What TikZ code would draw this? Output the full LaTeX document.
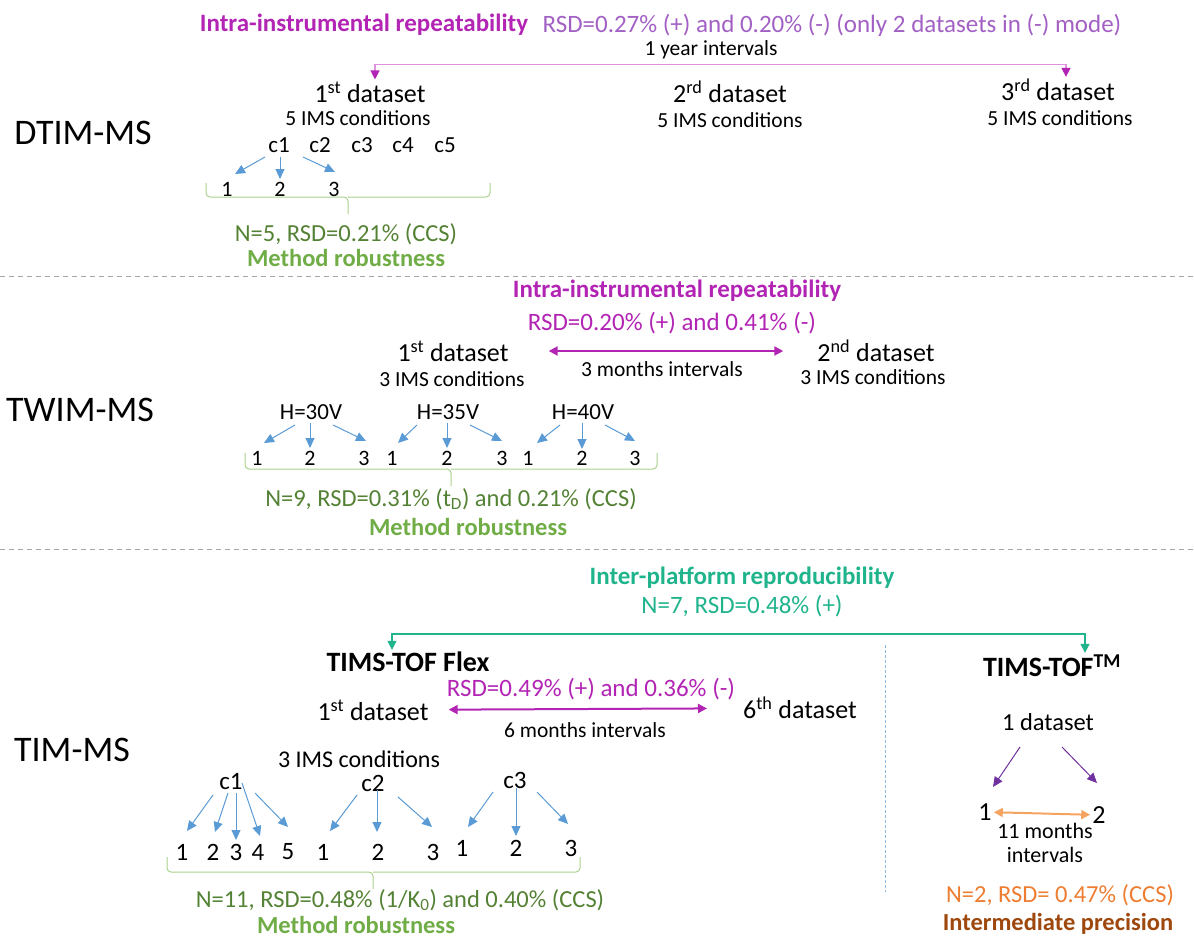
\documentclass[tikz,border=0pt]{standalone}
\usepackage{fontspec}
\setmainfont{Carlito}
\usetikzlibrary{arrows.meta,positioning,calc}
\definecolor{magt}{RGB}{178,36,180}
\definecolor{lilac}{RGB}{162,96,196}
\definecolor{pinkln}{RGB}{222,146,222}
\definecolor{arrblue}{RGB}{91,155,213}
\definecolor{bracegrn}{RGB}{169,209,142}
\definecolor{dkgrn}{RGB}{84,130,53}
\definecolor{mgrn}{RGB}{112,173,71}
\definecolor{tealg}{RGB}{32,180,140}
\definecolor{purp}{RGB}{112,48,160}
\definecolor{orng}{RGB}{237,125,49}
\definecolor{orngln}{RGB}{244,164,96}
\definecolor{brwn}{RGB}{158,72,14}
\newcommand{\fsz}[1]{\fontsize{#1}{#1}\selectfont}
\tikzset{
  every node/.style={inner sep=2pt},
  tech/.style={font=\fsz{36}},
  titlem/.style={font=\bfseries\fsz{25}, text=magt},
  rsdm/.style={font=\fsz{25}, text=magt},
  dset/.style={font=\fsz{26}},
  cond/.style={font=\fsz{21.5}},
  ivl/.style={font=\fsz{21.5}},
  cnd/.style={font=\fsz{23}},
  rep/.style={font=\fsz{22}},
  stat/.style={font=\fsz{24.5}, text=dkgrn},
  robust/.style={font=\bfseries\fsz{24.5}, text=mgrn},
  instr/.style={font=\bfseries\fsz{28}},
  fanarr/.style={-{Triangle[length=10pt,width=9pt]}, draw=arrblue, line width=1pt},
  intspan/.style={{Triangle[length=9pt,width=9pt]}-{Triangle[length=9pt,width=9pt]}, draw=magt, line width=2pt},
  brc/.style={draw=bracegrn, line width=1pt, rounded corners=4pt},
  divider/.style={draw=black!35, line width=1pt, dash pattern=on 5pt off 4pt},
}

\begin{document}
\begin{tikzpicture}[x=1pt, y=-1pt]
  \useasboundingbox (0,0) rectangle (1194,939);
  % DTIM-MS
  \node[titlem] (ttl1) at (364,25) {Intra-instrumental repeatability};
  \node[rsdm, text=lilac] (rsd1) at (832,25) {RSD=0.27\% (+) and 0.20\% (-) (only 2 datasets in (-) mode)};
  \node[ivl] (yr) at (711,50) {1 year intervals};
  \node[dset] (d1) at (370,92) {1\textsuperscript{st} dataset};
  \node[cond] (d1c) at (358,118) {5 IMS conditions};
  \node[dset] (d2) at (730,92) {2\textsuperscript{rd} dataset};
  \node[cond] (d2c) at (730,120) {5 IMS conditions};
  \node[dset] (d3) at (1058,90) {3\textsuperscript{rd} dataset};
  \node[cond] (d3c) at (1060,118) {5 IMS conditions};
  \node[tech] (dtim) at (83,133) {DTIM-MS};
  \node[cnd] (ca1) at (279,145) {c1};
  \node[cnd] (ca2) at (320,145) {c2};
  \node[cnd] (ca3) at (362,145) {c3};
  \node[cnd] (ca4) at (403,145) {c4};
  \node[cnd] (ca5) at (445,145) {c5};
  \node[rep] (a1) at (227,189) {1};
  \node[rep] (a2) at (280,189) {2};
  \node[rep] (a3) at (334,189) {3};
  \node[stat] (n5) at (346,234) {N=5, RSD=0.21\% (CCS)};
  \node[robust] (mr1) at (346,258) {Method robustness};
  \draw[draw=pinkln, line width=1.3pt,
    {Triangle[length=9pt,width=9pt,color=magt]}-{Triangle[length=9pt,width=9pt,color=magt]}]
    ([xshift=5pt]d1.north) -- ++(0,-15) -| ([xshift=8pt]d3.north);
  \draw[fanarr] ($(ca1)+(-14,12)$) -- ($(a1)+(8,-15)$);
  \draw[fanarr] ($(ca1)+(1,12)$) -- ($(a2)+(0,-10)$);
  \draw[fanarr] ($(ca1)+(24,12)$) -- ($(a3)+(1,-17)$);
  \draw[brc] (206,183) -- (206,197) -- (348,197) -- (348,214);
  \draw[brc] (490,183) -- (490,197) -- (348,197);
  \draw[divider] (0,276) -- (1194,276);

  % TWIM-MS
  \node[titlem] (ttl2) at (677,291) {Intra-instrumental repeatability};
  \node[rsdm] (rsd2) at (672,323) {RSD=0.20\% (+) and 0.41\% (-)};
  \node[dset] (e1) at (453,351) {1\textsuperscript{st} dataset};
  \node[cond] (e1c) at (452,379) {3 IMS conditions};
  \node[dset] (e2) at (876,351) {2\textsuperscript{nd} dataset};
  \node[cond] (e2c) at (873,377) {3 IMS conditions};
  \node[ivl] (mo3) at (662,369) {3 months intervals};
  \draw[intspan] (e1) -- (e2) [shorten <=38pt, shorten >=32pt];
  \node[tech] (twim) at (80,410) {TWIM-MS};
  \node[cnd] (h1) at (311,412) {H=30V};
  \node[cnd] (h2) at (448,412) {H=35V};
  \node[cnd] (h3) at (583,412) {H=40V};
  \node[rep] (b1) at (257,458) {1};
  \node[rep] (b2) at (310,458) {2};
  \node[rep] (b3) at (364,458) {3};
  \node[rep] (b4) at (392,458) {1};
  \node[rep] (b5) at (447,458) {2};
  \node[rep] (b6) at (502,458) {3};
  \node[rep] (b7) at (528,458) {1};
  \node[rep] (b8) at (582,458) {2};
  \node[rep] (b9) at (635,458) {3};
  \draw[fanarr] ($(h1)+(-16,13)$) -- ($(b1)+(7,-15)$);
  \draw[fanarr] ($(h1)+(-1,11)$) -- ($(b2)+(0,-10)$);
  \draw[fanarr] ($(h1)+(22,13)$) -- ($(b3)+(2,-17)$);
  \draw[fanarr] ($(h2)+(-31,13)$) -- ($(b4)+(6,-15)$);
  \draw[fanarr] ($(h2)+(-1,11)$) -- ($(b5)+(0,-10)$);
  \draw[fanarr] ($(h2)+(22,13)$) -- ($(b6)+(0,-17)$);
  \draw[fanarr] ($(h3)+(-23,13)$) -- ($(b7)+(9,-15)$);
  \draw[fanarr] ($(h3)+(-1,11)$) -- ($(b8)+(0,-9)$);
  \draw[fanarr] ($(h3)+(22,13)$) -- ($(b9)+(0,-17)$);
  \draw[brc] (245,453) -- (245,469) -- (451,469) -- (451,486);
  \draw[brc] (657,453) -- (657,469) -- (451,469);
  \node[stat] (n9) at (451,499) {N=9, RSD=0.31\% (t\textsubscript{D}) and 0.21\% (CCS)};
  \node[robust] (mr2) at (468,527) {Method robustness};
  \draw[divider] (0,549) -- (1194,549);

  % TIM-MS
  \node[titlem, text=tealg] (ttl3) at (742,578) {Inter-platform reproducibility};
  \node[rsdm, text=tealg] (n7) at (742,606) {N=7, RSD=0.48\% (+)};
  \node[instr] (flex) at (408,662) {TIMS-TOF Flex};
  \node[instr] (tmx) at (1052,666) {TIMS-TOF\textsuperscript{TM}};
  \draw[draw=tealg, line width=1.3pt,
    {Triangle[length=9pt,width=9pt]}-{Triangle[length=9pt,width=9pt]}]
    ([xshift=-16pt]flex.north) -- ++(0,-16) -| ([xshift=33pt]tmx.north);
  \draw[draw=arrblue!70, line width=0.8pt, dash pattern=on 3pt off 2pt] (885,645) -- (885,892);
  \node[rsdm] (rsd3) at (591,689) {RSD=0.49\% (+) and 0.36\% (-)};
  \node[dset] (f1) at (373,710) {1\textsuperscript{st} dataset};
  \node[dset] (f6) at (800,708) {6\textsuperscript{th} dataset};
  \draw[intspan] (f1) -- (f6) [shorten <=18pt, shorten >=34pt];
  \node[ivl] (mo6) at (585,730) {6 months intervals};
  \node[tech] (tim) at (72,750) {TIM-MS};
  \node[cond, font=\fsz{24}] (cond3) at (359,759) {3 IMS conditions};
  \node[cnd, font=\fsz{25}] (cb1) at (231,782) {c1};
  \node[cnd, font=\fsz{25}] (cb2) at (373,783) {c2};
  \node[cnd, font=\fsz{25}] (cb3) at (515,780) {c3};
  \node[rep, font=\fsz{25}] (g1) at (182,852) {1};
  \node[rep, font=\fsz{25}] (g2) at (213,852) {2};
  \node[rep, font=\fsz{25}] (g3) at (236,852) {3};
  \node[rep, font=\fsz{25}] (g4) at (258,852) {4};
  \node[rep, font=\fsz{25}] (g5) at (288,852) {5};
  \node[rep, font=\fsz{25}] (g6) at (323,852) {1};
  \node[rep, font=\fsz{25}] (g7) at (378,852) {2};
  \node[rep, font=\fsz{25}] (g8) at (433,852) {3};
  \node[rep, font=\fsz{25}] (g9) at (462,848) {1};
  \node[rep, font=\fsz{25}] (g10) at (516,848) {2};
  \node[rep, font=\fsz{25}] (g11) at (571,848) {3};
  \draw[fanarr] ($(cb1)+(-18,13)$) -- ($(g1)+(5,-21)$);
  \draw[fanarr] ($(cb1)+(-3,11)$) -- ($(g2)+(2,-20)$);
  \draw[fanarr] ($(cb1)+(5,11)$) -- ($(g3)+(0,-12)$);
  \draw[fanarr] ($(cb1)+(11,1)$) -- ($(g4)+(2,-16)$);
  \draw[fanarr] ($(cb1)+(24,11)$) -- ($(g5)+(0,-25)$);
  \draw[fanarr] ($(cb2)+(-16,12)$) -- ($(g6)+(7,-21)$);
  \draw[fanarr] ($(cb2)+(4,7)$) -- ($(g7)+(-1,-20)$);
  \draw[fanarr] ($(cb2)+(25,14)$) -- ($(g8)+(-1,-25)$);
  \draw[fanarr] ($(cb3)+(-22,12)$) -- ($(g9)+(6,-21)$);
  \draw[fanarr] ($(cb3)+(1,8)$) -- ($(g10)+(0,-12)$);
  \draw[fanarr] ($(cb3)+(22,12)$) -- ($(g11)+(-3,-24)$);
  \draw[brc] (167,857) -- (167,872) -- (373,872) -- (373,889);
  \draw[brc] (580,857) -- (580,872) -- (373,872);
  \node[stat] (n11) at (400,900) {N=11, RSD=0.48\% (1/K\textsubscript{0}) and 0.40\% (CCS)};
  \node[robust] (mr3) at (356,925) {Method robustness};

  % TIMS-TOF right side
  \node[cond, font=\fsz{24.5}] (one) at (1048,722) {1 dataset};
  \node[rep, font=\fsz{26}] (r1) at (985,812) {1};
  \node[rep, font=\fsz{26}] (r2) at (1099,815) {2};
  \draw[-{Triangle[length=10pt,width=9pt]}, draw=purp, line width=1pt] ($(one)+(-28,25)$) -- ($(r1)+(8,-25)$);
  \draw[-{Triangle[length=10pt,width=9pt]}, draw=purp, line width=1pt] ($(one)+(14,25)$) -- ($(r2)+(-2,-32)$);
  \draw[{Triangle[length=9pt,width=9pt]}-{Triangle[length=9pt,width=9pt]}, draw=orngln, line width=2pt] (r1) -- (r2);
  \node[ivl, font=\fsz{22}, align=center] (mo11) at (1045,843) {11 months\\[2pt]intervals};
  \node[stat, text=orng] (n2) at (1060,895) {N=2, RSD= 0.47\% (CCS)};
  \node[robust, text=brwn] (ip) at (1058,924) {Intermediate precision};
\end{tikzpicture}
\end{document}
